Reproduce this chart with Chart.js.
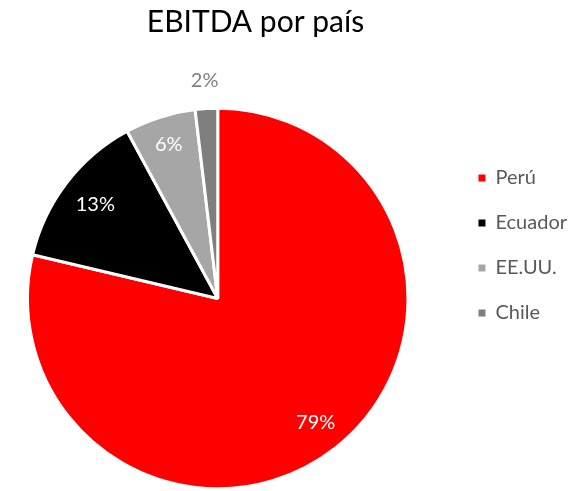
<!DOCTYPE html>
<html>
<head>
<meta charset="utf-8">
<script src="https://cdn.jsdelivr.net/npm/chart.js@4.4.1/dist/chart.umd.min.js"></script>
<style>
html,body{margin:0;padding:0;background:#fff;}
canvas{display:block;}
</style>
</head>
<body>
<canvas id="c" width="587" height="491"></canvas>
<script>
const categories = ['Perú', 'Ecuador', 'EE.UU.', 'Chile'];
const values = [78.7, 13.4, 6.0, 1.9];
const valueLabels = ['79%', '13%', '6%', '2%'];
const sliceColors = ['#FF0000', '#000000', '#A6A6A6', '#7F7F7F'];
const labelColors = ['#FFFFFF', '#FFFFFF', '#FFFFFF', '#7F7F7F'];
const labelRadii = [0.83, 0.81, 0.85, 1.15];

const FONT = 'Lato, "Open Sans", sans-serif';

const sliceLabels = {
  id: 'sliceLabels',
  afterDatasetsDraw(chart) {
    const ctx = chart.ctx;
    const meta = chart.getDatasetMeta(0);
    ctx.save();
    ctx.font = '20px ' + FONT;
    ctx.textAlign = 'center';
    ctx.textBaseline = 'middle';
    meta.data.forEach((arc, i) => {
      const p = arc.getProps(['x', 'y', 'startAngle', 'endAngle', 'outerRadius'], true);
      const mid = (p.startAngle + p.endAngle) / 2;
      const r = p.outerRadius * labelRadii[i];
      ctx.fillStyle = labelColors[i];
      ctx.fillText(valueLabels[i], p.x + Math.cos(mid) * r, p.y + Math.sin(mid) * r);
    });
    ctx.restore();
  }
};

const nudge = {
  id: 'nudge',
  afterLayout(chart) {
    const lg = chart.legend;
    if (lg) {
      const dx = 44, dy = 0;
      lg.left += dx; lg.right += dx; lg.top += dy; lg.bottom += dy;
    }
    const tb = chart.titleBlock;
    if (tb) {
      const dx = -24;
      tb.left += dx; tb.right += dx;
    }
  }
};

new Chart(document.getElementById('c'), {
  type: 'pie',
  data: {
    labels: categories,
    datasets: [{
      data: values,
      backgroundColor: sliceColors,
      borderColor: '#FFFFFF',
      borderWidth: 3
    }]
  },
  options: {
    responsive: false,
    animation: false,
    layout: { padding: { left: 26, right: 54, top: 0, bottom: 0 } },
    plugins: {
      tooltip: { enabled: false },
      title: {
        display: true,
        text: 'EBITDA por país',
        color: '#000000',
        font: { family: FONT, size: 30, weight: 'normal' },
        padding: { top: 4, bottom: 66 }
      },
      legend: {
        position: 'right',
        align: 'center',
        labels: {
          color: '#595959',
          font: { family: FONT, size: 20 },
          boxWidth: 7,
          boxHeight: 7,
          padding: 25,
          generateLabels(chart) {
            const items = Chart.overrides.pie.plugins.legend.labels.generateLabels(chart);
            items.forEach(it => { it.lineWidth = 0; it.strokeStyle = it.fillStyle; });
            return items;
          }
        }
      }
    }
  },
  plugins: [sliceLabels, nudge]
});
</script>
</body>
</html>
